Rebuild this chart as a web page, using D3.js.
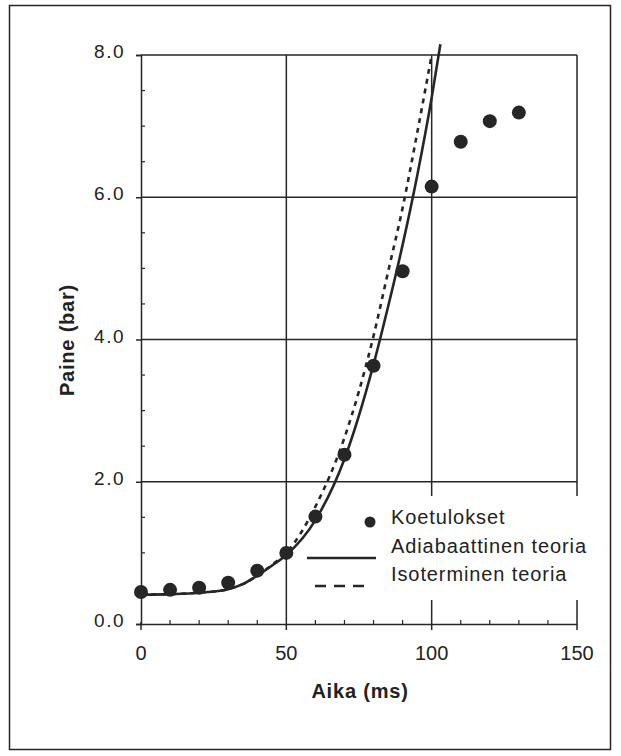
<!DOCTYPE html>
<html><head><meta charset="utf-8">
<script src="https://cdn.jsdelivr.net/npm/d3@7/dist/d3.min.js"></script>
<style>body{margin:0;background:#fff}svg{display:block}text{font-family:"Liberation Sans",Arial,sans-serif;fill:#222}</style>
</head><body><svg id="c" width="621" height="756"></svg>
<script>
// Data
const expTime = [0,10,20,30,40,50,60,70,80,90,100,110,120,130];
const expPressure = [0.45,0.48,0.51,0.58,0.75,1.00,1.51,2.38,3.63,4.96,6.15,6.78,7.07,7.19];
const adiaTime = [0,10,20,30,35,40,45,50,60,70,80,85,90,95,100,103];
const adiaPressure = [0.41,0.42,0.44,0.49,0.56,0.68,0.82,0.97,1.46,2.32,3.65,4.46,5.33,6.30,7.40,8.15];
const isoTime = [0,10,20,30,35,40,45,50,55,60,70,80,85,90,95,100];
const isoPressure = [0.41,0.42,0.44,0.49,0.56,0.68,0.83,1.00,1.28,1.65,2.62,4.05,4.95,5.85,6.90,8.00];
const xTicks = [0,50,100,150];
const yTicks = [0,2,4,6,8];
const legendLabels = ["Koetulokset","Adiabaattinen teoria","Isoterminen teoria"];
const xTitle = "Aika (ms)", yTitle = "Paine (bar)";

const svg = d3.select("#c");
const ink = "#262626";
const x = d3.scaleLinear().domain([0,150]).range([141,577]);
const y = d3.scaleLinear().domain([0,8]).range([624,55]);

// outer frame
svg.append("rect").attr("x",9.5).attr("y",5.5).attr("width",601).attr("height",744)
  .attr("fill","none").attr("stroke",ink).attr("stroke-width",1.5);

// grid
const g = svg.append("g");
g.selectAll(".hg").data(yTicks.filter(d=>d>0)).join("line")
  .attr("x1",x(0)).attr("x2",x(150)).attr("y1",d=>y(d)).attr("y2",d=>y(d))
  .attr("stroke",ink).attr("stroke-width",1.5);
g.selectAll(".vg").data(xTicks.filter(d=>d>0)).join("line")
  .attr("x1",d=>x(d)).attr("x2",d=>x(d)).attr("y1",y(8)).attr("y2",y(0)+6)
  .attr("stroke",ink).attr("stroke-width",1.5);

// legend background (hides grid)
svg.append("rect").attr("x",338).attr("y",496).attr("width",250).attr("height",104).attr("fill","#fff");

// axes
const xAxis = d3.axisBottom(x).tickValues(d3.range(0,151,10)).tickSize(0).tickFormat("");
const ax = svg.append("g").attr("transform",`translate(0,${y(0)})`).call(xAxis);
ax.select(".domain").attr("stroke",ink).attr("stroke-width",1.5);
svg.selectAll(".xm").data(d3.range(10,150,10).filter(d=>d%50)).join("line")
  .attr("x1",d=>x(d)).attr("x2",d=>x(d)).attr("y1",y(0)).attr("y2",y(0)-4)
  .attr("stroke",ink).attr("stroke-width",1.2);
svg.append("line").attr("x1",x(0)).attr("x2",x(0)).attr("y1",y(0)-2).attr("y2",y(0)+6).attr("stroke",ink).attr("stroke-width",1.5);
svg.selectAll(".xl").data(xTicks).join("text")
  .attr("x",d=>x(d)).attr("y",660).attr("text-anchor","middle").attr("font-size",20).text(d=>d);

const yAxis = d3.axisLeft(y).tickValues(yTicks).tickSize(5).tickFormat("");
const ay = svg.append("g").attr("transform",`translate(${x(0)},0)`).call(yAxis);
ay.select(".domain").attr("stroke",ink).attr("stroke-width",1.5);
ay.selectAll(".tick line").attr("stroke",ink).attr("stroke-width",1.5);
svg.selectAll(".ym").data(d3.range(0.5,8,0.5).filter(d=>d%2)).join("line")
  .attr("x1",x(0)).attr("x2",x(0)+4).attr("y1",d=>y(d)).attr("y2",d=>y(d))
  .attr("stroke",ink).attr("stroke-width",1.2);
svg.selectAll(".yl").data(yTicks).join("text")
  .attr("x",125).attr("y",d=>y(d)+3).attr("text-anchor","end").attr("font-size",19)
  .attr("letter-spacing",1.5).text(d=>d.toFixed(1));

// titles
svg.append("text").attr("x",360).attr("y",698).attr("text-anchor","middle")
  .attr("font-size",20).attr("font-weight","bold").attr("letter-spacing",0.8).text(xTitle);
svg.append("text").attr("transform","translate(74,340) rotate(-90)").attr("text-anchor","middle")
  .attr("font-size",20).attr("font-weight","bold").attr("letter-spacing",0.8).text(yTitle);

// curves
const line = d3.line().x(d=>x(d[0])).y(d=>y(d[1])).curve(d3.curveMonotoneX);
svg.append("path").attr("d",line(isoTime.map((t,i)=>[t,isoPressure[i]])))
  .attr("fill","none").attr("stroke",ink).attr("stroke-width",2.6).attr("stroke-dasharray","5,5");
svg.append("path").attr("d",line(adiaTime.map((t,i)=>[t,adiaPressure[i]])))
  .attr("fill","none").attr("stroke",ink).attr("stroke-width",2.6);

// points
svg.selectAll(".pt").data(expTime).join("circle")
  .attr("cx",d=>x(d)).attr("cy",(d,i)=>y(expPressure[i])).attr("r",7).attr("fill",ink);

// legend
svg.append("circle").attr("cx",370).attr("cy",522).attr("r",5.5).attr("fill",ink);
svg.append("line").attr("x1",307).attr("x2",376).attr("y1",558).attr("y2",558).attr("stroke",ink).attr("stroke-width",2.6);
svg.append("line").attr("x1",315).attr("x2",365).attr("y1",586).attr("y2",586).attr("stroke",ink).attr("stroke-width",2.6).attr("stroke-dasharray","11,8");
svg.selectAll(".lt").data(legendLabels).join("text")
  .attr("x",391).attr("y",(d,i)=>[524,553,581][i]).attr("font-size",20).attr("letter-spacing",0.9).text(d=>d);
</script></body></html>
